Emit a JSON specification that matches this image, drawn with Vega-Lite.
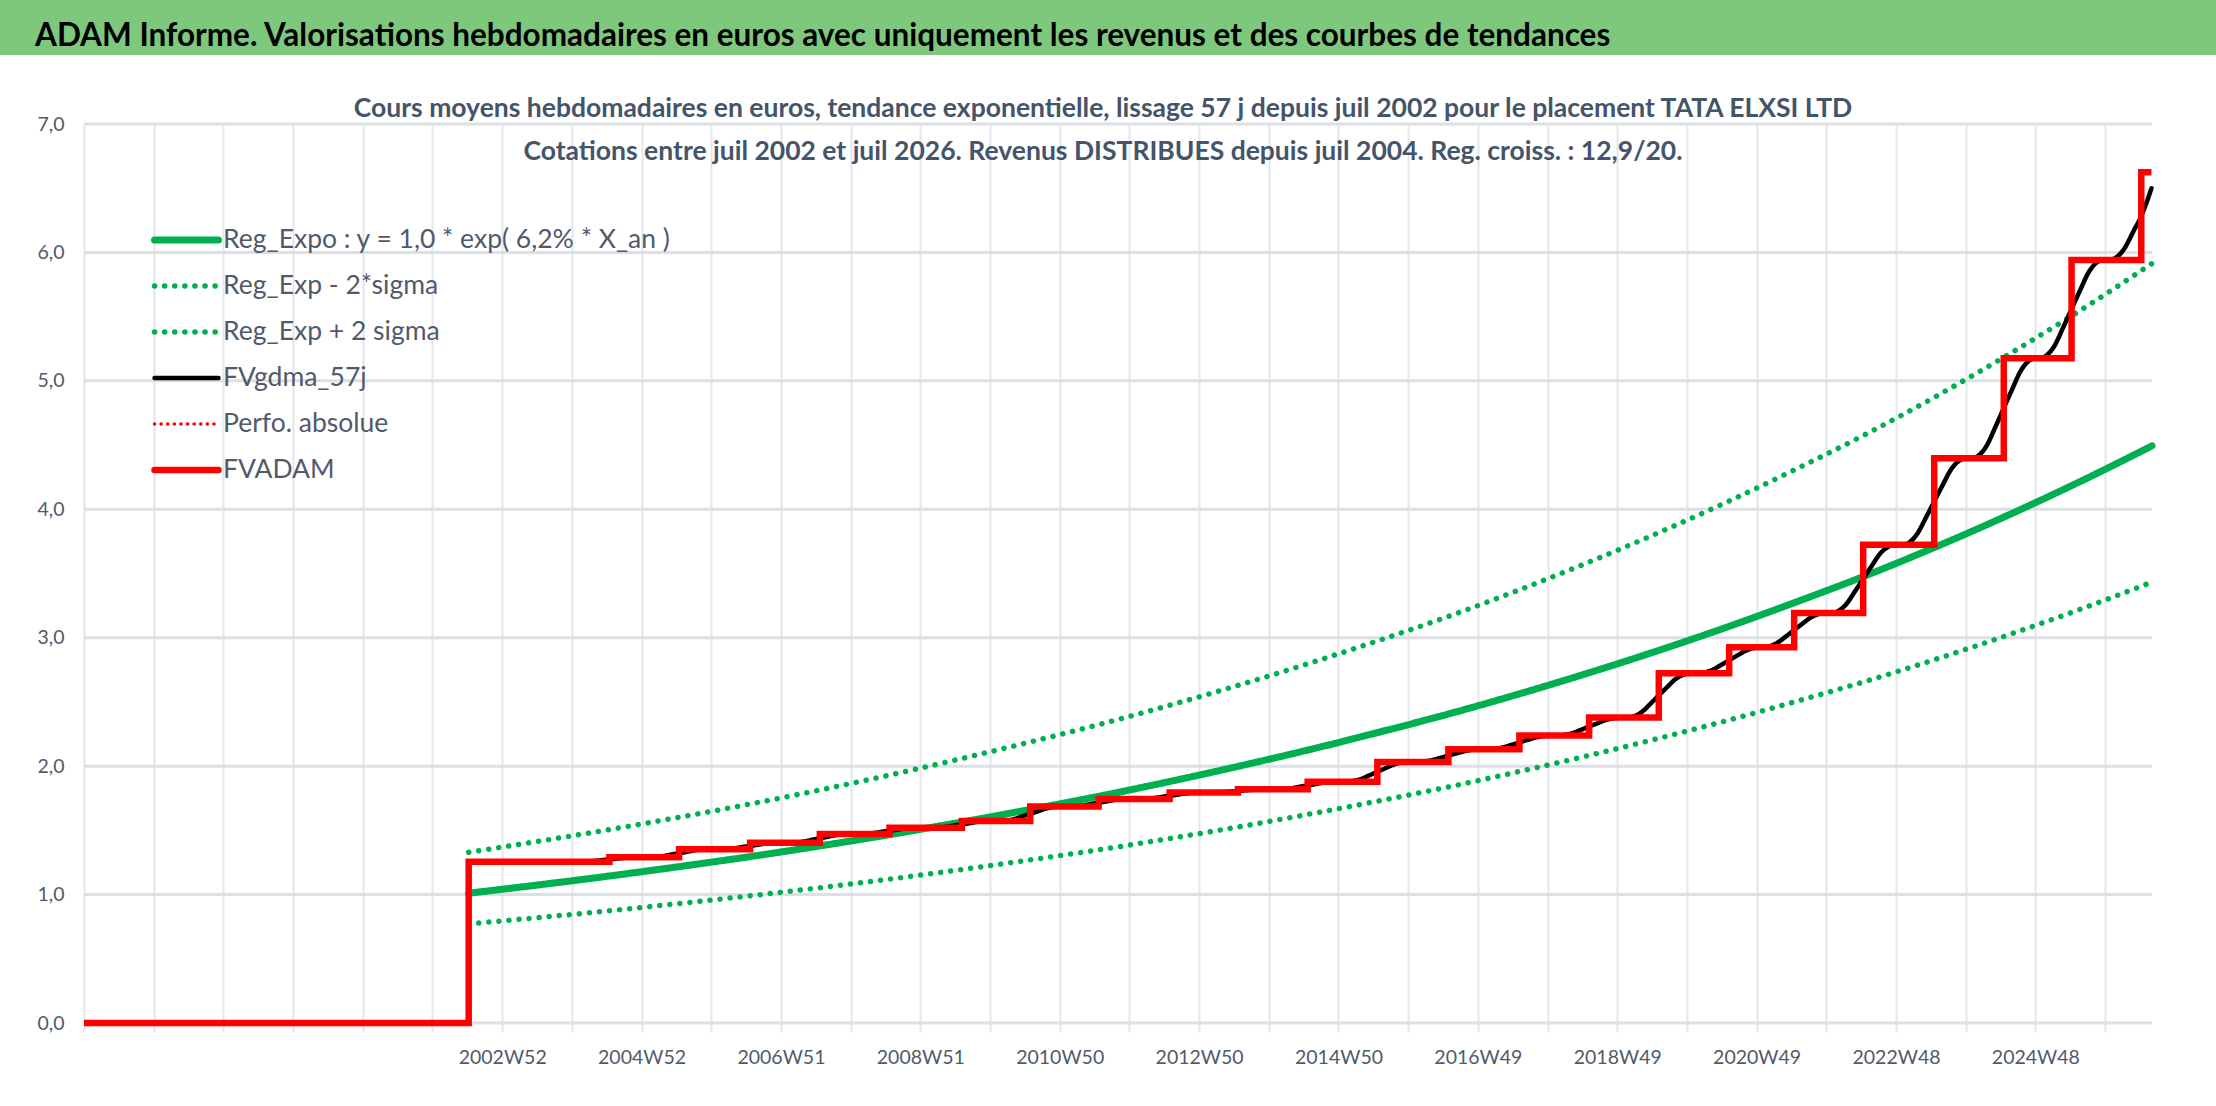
{
  "$schema": "https://vega.github.io/schema/vega-lite/v6.json",
  "background": "white",
  "padding": 0,
  "columns": 1,
  "align": "none",
  "spacing": 40,
  "config": {"view": {"stroke": null}},
  "datasets": {
    "grille": [
      {"y": 0, "debut": 0, "fin": 1543},
      {"y": 1, "debut": 0, "fin": 1543},
      {"y": 2, "debut": 0, "fin": 1543},
      {"y": 3, "debut": 0, "fin": 1543},
      {"y": 4, "debut": 0, "fin": 1543},
      {"y": 5, "debut": 0, "fin": 1543},
      {"y": 6, "debut": 0, "fin": 1543},
      {"y": 7, "debut": 0, "fin": 1543}
    ],
    "tendances": [
      {"x": 287, "y": 1.010, "serie": "Reg_Expo : y = 1,0 * exp( 6,2% *  X_an )"},
      {"x": 339, "y": 1.075, "serie": "Reg_Expo : y = 1,0 * exp( 6,2% *  X_an )"},
      {"x": 391, "y": 1.143, "serie": "Reg_Expo : y = 1,0 * exp( 6,2% *  X_an )"},
      {"x": 443, "y": 1.216, "serie": "Reg_Expo : y = 1,0 * exp( 6,2% *  X_an )"},
      {"x": 496, "y": 1.294, "serie": "Reg_Expo : y = 1,0 * exp( 6,2% *  X_an )"},
      {"x": 548, "y": 1.377, "serie": "Reg_Expo : y = 1,0 * exp( 6,2% *  X_an )"},
      {"x": 600, "y": 1.465, "serie": "Reg_Expo : y = 1,0 * exp( 6,2% *  X_an )"},
      {"x": 652, "y": 1.559, "serie": "Reg_Expo : y = 1,0 * exp( 6,2% *  X_an )"},
      {"x": 704, "y": 1.659, "serie": "Reg_Expo : y = 1,0 * exp( 6,2% *  X_an )"},
      {"x": 757, "y": 1.765, "serie": "Reg_Expo : y = 1,0 * exp( 6,2% *  X_an )"},
      {"x": 809, "y": 1.878, "serie": "Reg_Expo : y = 1,0 * exp( 6,2% *  X_an )"},
      {"x": 861, "y": 1.998, "serie": "Reg_Expo : y = 1,0 * exp( 6,2% *  X_an )"},
      {"x": 913, "y": 2.125, "serie": "Reg_Expo : y = 1,0 * exp( 6,2% *  X_an )"},
      {"x": 965, "y": 2.261, "serie": "Reg_Expo : y = 1,0 * exp( 6,2% *  X_an )"},
      {"x": 1018, "y": 2.406, "serie": "Reg_Expo : y = 1,0 * exp( 6,2% *  X_an )"},
      {"x": 1070, "y": 2.560, "serie": "Reg_Expo : y = 1,0 * exp( 6,2% *  X_an )"},
      {"x": 1122, "y": 2.724, "serie": "Reg_Expo : y = 1,0 * exp( 6,2% *  X_an )"},
      {"x": 1174, "y": 2.898, "serie": "Reg_Expo : y = 1,0 * exp( 6,2% *  X_an )"},
      {"x": 1226, "y": 3.083, "serie": "Reg_Expo : y = 1,0 * exp( 6,2% *  X_an )"},
      {"x": 1278, "y": 3.280, "serie": "Reg_Expo : y = 1,0 * exp( 6,2% *  X_an )"},
      {"x": 1331, "y": 3.490, "serie": "Reg_Expo : y = 1,0 * exp( 6,2% *  X_an )"},
      {"x": 1383, "y": 3.713, "serie": "Reg_Expo : y = 1,0 * exp( 6,2% *  X_an )"},
      {"x": 1435, "y": 3.951, "serie": "Reg_Expo : y = 1,0 * exp( 6,2% *  X_an )"},
      {"x": 1487, "y": 4.204, "serie": "Reg_Expo : y = 1,0 * exp( 6,2% *  X_an )"},
      {"x": 1543, "y": 4.494, "serie": "Reg_Expo : y = 1,0 * exp( 6,2% *  X_an )"},
      {"x": 287, "y": 0.772, "serie": "Reg_Exp - 2*sigma"},
      {"x": 339, "y": 0.821, "serie": "Reg_Exp - 2*sigma"},
      {"x": 391, "y": 0.873, "serie": "Reg_Exp - 2*sigma"},
      {"x": 443, "y": 0.929, "serie": "Reg_Exp - 2*sigma"},
      {"x": 496, "y": 0.989, "serie": "Reg_Exp - 2*sigma"},
      {"x": 548, "y": 1.052, "serie": "Reg_Exp - 2*sigma"},
      {"x": 600, "y": 1.119, "serie": "Reg_Exp - 2*sigma"},
      {"x": 652, "y": 1.191, "serie": "Reg_Exp - 2*sigma"},
      {"x": 704, "y": 1.267, "serie": "Reg_Exp - 2*sigma"},
      {"x": 757, "y": 1.348, "serie": "Reg_Exp - 2*sigma"},
      {"x": 809, "y": 1.435, "serie": "Reg_Exp - 2*sigma"},
      {"x": 861, "y": 1.526, "serie": "Reg_Exp - 2*sigma"},
      {"x": 913, "y": 1.624, "serie": "Reg_Exp - 2*sigma"},
      {"x": 965, "y": 1.727, "serie": "Reg_Exp - 2*sigma"},
      {"x": 1018, "y": 1.838, "serie": "Reg_Exp - 2*sigma"},
      {"x": 1070, "y": 1.956, "serie": "Reg_Exp - 2*sigma"},
      {"x": 1122, "y": 2.081, "serie": "Reg_Exp - 2*sigma"},
      {"x": 1174, "y": 2.214, "serie": "Reg_Exp - 2*sigma"},
      {"x": 1226, "y": 2.355, "serie": "Reg_Exp - 2*sigma"},
      {"x": 1278, "y": 2.506, "serie": "Reg_Exp - 2*sigma"},
      {"x": 1331, "y": 2.666, "serie": "Reg_Exp - 2*sigma"},
      {"x": 1383, "y": 2.837, "serie": "Reg_Exp - 2*sigma"},
      {"x": 1435, "y": 3.019, "serie": "Reg_Exp - 2*sigma"},
      {"x": 1487, "y": 3.212, "serie": "Reg_Exp - 2*sigma"},
      {"x": 1543, "y": 3.433, "serie": "Reg_Exp - 2*sigma"},
      {"x": 287, "y": 1.329, "serie": "Reg_Exp + 2 sigma"},
      {"x": 339, "y": 1.415, "serie": "Reg_Exp + 2 sigma"},
      {"x": 391, "y": 1.504, "serie": "Reg_Exp + 2 sigma"},
      {"x": 443, "y": 1.600, "serie": "Reg_Exp + 2 sigma"},
      {"x": 496, "y": 1.703, "serie": "Reg_Exp + 2 sigma"},
      {"x": 548, "y": 1.812, "serie": "Reg_Exp + 2 sigma"},
      {"x": 600, "y": 1.928, "serie": "Reg_Exp + 2 sigma"},
      {"x": 652, "y": 2.052, "serie": "Reg_Exp + 2 sigma"},
      {"x": 704, "y": 2.183, "serie": "Reg_Exp + 2 sigma"},
      {"x": 757, "y": 2.323, "serie": "Reg_Exp + 2 sigma"},
      {"x": 809, "y": 2.471, "serie": "Reg_Exp + 2 sigma"},
      {"x": 861, "y": 2.629, "serie": "Reg_Exp + 2 sigma"},
      {"x": 913, "y": 2.797, "serie": "Reg_Exp + 2 sigma"},
      {"x": 965, "y": 2.975, "serie": "Reg_Exp + 2 sigma"},
      {"x": 1018, "y": 3.166, "serie": "Reg_Exp + 2 sigma"},
      {"x": 1070, "y": 3.369, "serie": "Reg_Exp + 2 sigma"},
      {"x": 1122, "y": 3.585, "serie": "Reg_Exp + 2 sigma"},
      {"x": 1174, "y": 3.814, "serie": "Reg_Exp + 2 sigma"},
      {"x": 1226, "y": 4.057, "serie": "Reg_Exp + 2 sigma"},
      {"x": 1278, "y": 4.316, "serie": "Reg_Exp + 2 sigma"},
      {"x": 1331, "y": 4.593, "serie": "Reg_Exp + 2 sigma"},
      {"x": 1383, "y": 4.886, "serie": "Reg_Exp + 2 sigma"},
      {"x": 1435, "y": 5.200, "serie": "Reg_Exp + 2 sigma"},
      {"x": 1487, "y": 5.532, "serie": "Reg_Exp + 2 sigma"},
      {"x": 1543, "y": 5.914, "serie": "Reg_Exp + 2 sigma"},
      {"x": 287, "y": 1.256, "serie": "FVgdma_57j"},
      {"x": 372, "y": 1.256, "serie": "FVgdma_57j"},
      {"x": 392, "y": 1.274, "serie": "FVgdma_57j"},
      {"x": 412, "y": 1.291, "serie": "FVgdma_57j"},
      {"x": 424, "y": 1.291, "serie": "FVgdma_57j"},
      {"x": 444, "y": 1.322, "serie": "FVgdma_57j"},
      {"x": 464, "y": 1.353, "serie": "FVgdma_57j"},
      {"x": 477, "y": 1.353, "serie": "FVgdma_57j"},
      {"x": 497, "y": 1.379, "serie": "FVgdma_57j"},
      {"x": 517, "y": 1.404, "serie": "FVgdma_57j"},
      {"x": 529, "y": 1.404, "serie": "FVgdma_57j"},
      {"x": 549, "y": 1.438, "serie": "FVgdma_57j"},
      {"x": 569, "y": 1.472, "serie": "FVgdma_57j"},
      {"x": 581, "y": 1.472, "serie": "FVgdma_57j"},
      {"x": 601, "y": 1.497, "serie": "FVgdma_57j"},
      {"x": 621, "y": 1.521, "serie": "FVgdma_57j"},
      {"x": 635, "y": 1.521, "serie": "FVgdma_57j"},
      {"x": 655, "y": 1.547, "serie": "FVgdma_57j"},
      {"x": 675, "y": 1.573, "serie": "FVgdma_57j"},
      {"x": 686, "y": 1.573, "serie": "FVgdma_57j"},
      {"x": 706, "y": 1.629, "serie": "FVgdma_57j"},
      {"x": 726, "y": 1.685, "serie": "FVgdma_57j"},
      {"x": 737, "y": 1.685, "serie": "FVgdma_57j"},
      {"x": 757, "y": 1.715, "serie": "FVgdma_57j"},
      {"x": 777, "y": 1.744, "serie": "FVgdma_57j"},
      {"x": 790, "y": 1.744, "serie": "FVgdma_57j"},
      {"x": 810, "y": 1.769, "serie": "FVgdma_57j"},
      {"x": 830, "y": 1.794, "serie": "FVgdma_57j"},
      {"x": 841, "y": 1.794, "serie": "FVgdma_57j"},
      {"x": 861, "y": 1.807, "serie": "FVgdma_57j"},
      {"x": 881, "y": 1.820, "serie": "FVgdma_57j"},
      {"x": 893, "y": 1.820, "serie": "FVgdma_57j"},
      {"x": 913, "y": 1.850, "serie": "FVgdma_57j"},
      {"x": 933, "y": 1.879, "serie": "FVgdma_57j"},
      {"x": 941, "y": 1.879, "serie": "FVgdma_57j"},
      {"x": 952, "y": 1.897, "serie": "FVgdma_57j"},
      {"x": 959, "y": 1.928, "serie": "FVgdma_57j"},
      {"x": 965, "y": 1.956, "serie": "FVgdma_57j"},
      {"x": 971, "y": 1.984, "serie": "FVgdma_57j"},
      {"x": 978, "y": 2.015, "serie": "FVgdma_57j"},
      {"x": 989, "y": 2.033, "serie": "FVgdma_57j"},
      {"x": 994, "y": 2.033, "serie": "FVgdma_57j"},
      {"x": 1005, "y": 2.045, "serie": "FVgdma_57j"},
      {"x": 1012, "y": 2.064, "serie": "FVgdma_57j"},
      {"x": 1018, "y": 2.082, "serie": "FVgdma_57j"},
      {"x": 1024, "y": 2.100, "serie": "FVgdma_57j"},
      {"x": 1031, "y": 2.119, "serie": "FVgdma_57j"},
      {"x": 1042, "y": 2.131, "serie": "FVgdma_57j"},
      {"x": 1047, "y": 2.131, "serie": "FVgdma_57j"},
      {"x": 1058, "y": 2.144, "serie": "FVgdma_57j"},
      {"x": 1065, "y": 2.165, "serie": "FVgdma_57j"},
      {"x": 1071, "y": 2.185, "serie": "FVgdma_57j"},
      {"x": 1077, "y": 2.204, "serie": "FVgdma_57j"},
      {"x": 1084, "y": 2.225, "serie": "FVgdma_57j"},
      {"x": 1095, "y": 2.238, "serie": "FVgdma_57j"},
      {"x": 1099, "y": 2.238, "serie": "FVgdma_57j"},
      {"x": 1110, "y": 2.255, "serie": "FVgdma_57j"},
      {"x": 1117, "y": 2.283, "serie": "FVgdma_57j"},
      {"x": 1123, "y": 2.308, "serie": "FVgdma_57j"},
      {"x": 1129, "y": 2.333, "serie": "FVgdma_57j"},
      {"x": 1136, "y": 2.361, "serie": "FVgdma_57j"},
      {"x": 1147, "y": 2.378, "serie": "FVgdma_57j"},
      {"x": 1151, "y": 2.378, "serie": "FVgdma_57j"},
      {"x": 1162, "y": 2.419, "serie": "FVgdma_57j"},
      {"x": 1169, "y": 2.488, "serie": "FVgdma_57j"},
      {"x": 1175, "y": 2.551, "serie": "FVgdma_57j"},
      {"x": 1181, "y": 2.613, "serie": "FVgdma_57j"},
      {"x": 1188, "y": 2.682, "serie": "FVgdma_57j"},
      {"x": 1199, "y": 2.723, "serie": "FVgdma_57j"},
      {"x": 1203.5, "y": 2.723, "serie": "FVgdma_57j"},
      {"x": 1214.5, "y": 2.747, "serie": "FVgdma_57j"},
      {"x": 1221.5, "y": 2.788, "serie": "FVgdma_57j"},
      {"x": 1227.5, "y": 2.825, "serie": "FVgdma_57j"},
      {"x": 1233.5, "y": 2.861, "serie": "FVgdma_57j"},
      {"x": 1240.5, "y": 2.902, "serie": "FVgdma_57j"},
      {"x": 1251.5, "y": 2.926, "serie": "FVgdma_57j"},
      {"x": 1253, "y": 2.926, "serie": "FVgdma_57j"},
      {"x": 1263, "y": 2.958, "serie": "FVgdma_57j"},
      {"x": 1270, "y": 3.011, "serie": "FVgdma_57j"},
      {"x": 1276, "y": 3.060, "serie": "FVgdma_57j"},
      {"x": 1282, "y": 3.108, "serie": "FVgdma_57j"},
      {"x": 1289, "y": 3.161, "serie": "FVgdma_57j"},
      {"x": 1300, "y": 3.193, "serie": "FVgdma_57j"},
      {"x": 1304, "y": 3.193, "serie": "FVgdma_57j"},
      {"x": 1314.5, "y": 3.257, "serie": "FVgdma_57j"},
      {"x": 1321.5, "y": 3.363, "serie": "FVgdma_57j"},
      {"x": 1327.5, "y": 3.458, "serie": "FVgdma_57j"},
      {"x": 1333.5, "y": 3.553, "serie": "FVgdma_57j"},
      {"x": 1340.5, "y": 3.659, "serie": "FVgdma_57j"},
      {"x": 1351.5, "y": 3.723, "serie": "FVgdma_57j"},
      {"x": 1356.5, "y": 3.723, "serie": "FVgdma_57j"},
      {"x": 1367.5, "y": 3.804, "serie": "FVgdma_57j"},
      {"x": 1374.5, "y": 3.939, "serie": "FVgdma_57j"},
      {"x": 1380.5, "y": 4.061, "serie": "FVgdma_57j"},
      {"x": 1386.5, "y": 4.182, "serie": "FVgdma_57j"},
      {"x": 1393.5, "y": 4.317, "serie": "FVgdma_57j"},
      {"x": 1404.5, "y": 4.398, "serie": "FVgdma_57j"},
      {"x": 1408.4, "y": 4.398, "serie": "FVgdma_57j"},
      {"x": 1419.4, "y": 4.491, "serie": "FVgdma_57j"},
      {"x": 1426.4, "y": 4.647, "serie": "FVgdma_57j"},
      {"x": 1432.4, "y": 4.788, "serie": "FVgdma_57j"},
      {"x": 1438.4, "y": 4.928, "serie": "FVgdma_57j"},
      {"x": 1445.4, "y": 5.084, "serie": "FVgdma_57j"},
      {"x": 1456.4, "y": 5.177, "serie": "FVgdma_57j"},
      {"x": 1459, "y": 5.177, "serie": "FVgdma_57j"},
      {"x": 1470, "y": 5.269, "serie": "FVgdma_57j"},
      {"x": 1477, "y": 5.422, "serie": "FVgdma_57j"},
      {"x": 1483, "y": 5.560, "serie": "FVgdma_57j"},
      {"x": 1489, "y": 5.697, "serie": "FVgdma_57j"},
      {"x": 1496, "y": 5.850, "serie": "FVgdma_57j"},
      {"x": 1507, "y": 5.942, "serie": "FVgdma_57j"},
      {"x": 1511, "y": 5.942, "serie": "FVgdma_57j"},
      {"x": 1522, "y": 6.024, "serie": "FVgdma_57j"},
      {"x": 1529, "y": 6.161, "serie": "FVgdma_57j"},
      {"x": 1535, "y": 6.284, "serie": "FVgdma_57j"},
      {"x": 1539, "y": 6.390, "serie": "FVgdma_57j"},
      {"x": 1542.6, "y": 6.500, "serie": "FVgdma_57j"}
    ],
    "adam": [
      {"x": 0, "y": 0, "serie": "FVADAM"},
      {"x": 287, "y": 1.256, "serie": "FVADAM"},
      {"x": 392, "y": 1.291, "serie": "FVADAM"},
      {"x": 444, "y": 1.353, "serie": "FVADAM"},
      {"x": 497, "y": 1.404, "serie": "FVADAM"},
      {"x": 549, "y": 1.472, "serie": "FVADAM"},
      {"x": 601, "y": 1.521, "serie": "FVADAM"},
      {"x": 655, "y": 1.573, "serie": "FVADAM"},
      {"x": 706, "y": 1.685, "serie": "FVADAM"},
      {"x": 757, "y": 1.744, "serie": "FVADAM"},
      {"x": 810, "y": 1.794, "serie": "FVADAM"},
      {"x": 861, "y": 1.820, "serie": "FVADAM"},
      {"x": 913, "y": 1.879, "serie": "FVADAM"},
      {"x": 965, "y": 2.033, "serie": "FVADAM"},
      {"x": 1018, "y": 2.131, "serie": "FVADAM"},
      {"x": 1071, "y": 2.238, "serie": "FVADAM"},
      {"x": 1123, "y": 2.378, "serie": "FVADAM"},
      {"x": 1175, "y": 2.723, "serie": "FVADAM"},
      {"x": 1227.5, "y": 2.926, "serie": "FVADAM"},
      {"x": 1276, "y": 3.193, "serie": "FVADAM"},
      {"x": 1327.5, "y": 3.723, "serie": "FVADAM"},
      {"x": 1380.5, "y": 4.398, "serie": "FVADAM"},
      {"x": 1432.4, "y": 5.177, "serie": "FVADAM"},
      {"x": 1483, "y": 5.942, "serie": "FVADAM"},
      {"x": 1535, "y": 6.625, "serie": "FVADAM"},
      {"x": 1542.6, "y": 6.625, "serie": "FVADAM"}
    ]
  },
  "concat": [
    {
      "width": 2216,
      "height": 55,
      "view": {"fill": "#7ec87e", "stroke": null},
      "title": {
        "text": "ADAM Informe. Valorisations hebdomadaires en euros avec uniquement les revenus et des courbes de tendances",
        "orient": "top",
        "anchor": "start",
        "frame": "group",
        "offset": -52,
        "dx": 35,
        "font": "Lato",
        "fontSize": 31.5,
        "fontWeight": "bold",
        "color": "#000000"
      },
      "data": {"values": [{"bandeau": "titre"}]},
      "mark": {"type": "rect", "color": "#7ec87e"}
    },
    {
      "width": 2152,
      "height": 899,
      "view": {"stroke": null},
      "title": {
        "text": [
          "Cours moyens hebdomadaires en euros, tendance exponentielle, lissage 57 j depuis juil 2002 pour le placement TATA  ELXSI LTD",
          "Cotations entre juil 2002 et juil 2026. Revenus DISTRIBUES depuis juil 2004. Reg. croiss. : 12,9/20."
        ],
        "anchor": "middle",
        "offset": -51,
        "dx": 27,
        "lineHeight": 43,
        "font": "Lato",
        "fontSize": 26.5,
        "fontWeight": "bold",
        "color": "#44546a"
      },
      "encoding": {
        "x": {
          "field": "x",
          "type": "quantitative",
          "scale": {"domain": [-62.7, 1543], "nice": false, "zero": false},
          "axis": {
            "title": null,
            "values": [0, 52, 104, 156, 208, 260, 312, 364, 416, 468, 520, 572, 624, 676, 728, 780, 832, 884, 936, 988, 1040, 1092, 1144, 1196, 1248, 1300, 1352, 1404, 1456, 1508],
            "labelExpr": "datum.value >= 312 && (datum.value - 312) % 104 == 0 ? ['2002W52','2004W52','2006W51','2008W51','2010W50','2012W50','2014W50','2016W49','2018W49','2020W49','2022W48','2024W48'][(datum.value - 312) / 104] : ''",
            "grid": true,
            "gridColor": "#e3e6ec",
            "gridWidth": 2,
            "domain": false,
            "ticks": true,
            "tickColor": "#e3e6ec",
            "tickWidth": 2,
            "tickSize": 9,
            "labelFont": "Lato",
            "labelFontSize": 19.5,
            "labelColor": "#505a6b",
            "labelPadding": 16,
            "labelAngle": 0,
            "labelOverlap": false,
            "labelFlush": false,
            "labelBound": false
          }
        },
        "y": {
          "field": "y",
          "type": "quantitative",
          "scale": {"domain": [0, 7], "nice": false},
          "axis": {
            "title": null,
            "values": [0, 1, 2, 3, 4, 5, 6, 7],
            "labelExpr": "replace(format(datum.value, '.1f'), '.', ',')",
            "grid": false,
            "domain": false,
            "ticks": false,
            "tickSize": 0,
            "labelFont": "Lato",
            "labelFontSize": 19.5,
            "labelColor": "#505a6b",
            "labelPadding": -64
          }
        }
      },
      "layer": [
        {
          "data": {"name": "grille"},
          "mark": {"type": "rule", "color": "#dcdfe5", "strokeWidth": 3},
          "encoding": {
            "y": {"field": "y", "type": "quantitative"},
            "x": {"field": "debut", "type": "quantitative"},
            "x2": {"field": "fin"}
          }
        },
        {
          "encoding": {
            "color": {
              "field": "serie",
              "type": "nominal",
              "scale": {
                "domain": ["Reg_Expo : y = 1,0 * exp( 6,2% *  X_an )", "Reg_Exp - 2*sigma", "Reg_Exp + 2 sigma", "FVgdma_57j", "Perfo. absolue", "FVADAM"],
                "range": ["#00b050", "#00b050", "#00b050", "#000000", "#ff0000", "#ff0000"]
              },
              "legend": {
                "title": null,
                "orient": "none",
                "legendX": 151,
                "legendY": 225,
                "symbolType": "stroke",
                "symbolSize": 4096,
                "clipHeight": 30,
                "rowPadding": 16,
                "labelOffset": 1,
                "labelLimit": 0,
                "labelFont": "Lato",
                "labelFontSize": 26.5,
                "labelColor": "#505a6b",
                "encode": {"symbols": {"update": {"strokeCap": {"value": "round"}}}}
              }
            },
            "strokeDash": {
              "field": "serie",
              "type": "nominal",
              "scale": {
                "domain": ["Reg_Expo : y = 1,0 * exp( 6,2% *  X_an )", "Reg_Exp - 2*sigma", "Reg_Exp + 2 sigma", "FVgdma_57j", "Perfo. absolue", "FVADAM"],
                "range": [[1, 0], [0.1, 10], [0.1, 10], [1, 0], [0.1, 6.5], [1, 0]]
              },
              "legend": {
                "title": null,
                "orient": "none",
                "legendX": 151,
                "legendY": 225,
                "symbolType": "stroke",
                "symbolSize": 4096,
                "clipHeight": 30,
                "rowPadding": 16,
                "labelOffset": 1,
                "labelLimit": 0,
                "labelFont": "Lato",
                "labelFontSize": 26.5,
                "labelColor": "#505a6b",
                "encode": {"symbols": {"update": {"strokeCap": {"value": "round"}}}}
              }
            },
            "strokeWidth": {
              "field": "serie",
              "type": "nominal",
              "scale": {
                "type": "ordinal",
                "domain": ["Reg_Expo : y = 1,0 * exp( 6,2% *  X_an )", "Reg_Exp - 2*sigma", "Reg_Exp + 2 sigma", "FVgdma_57j", "Perfo. absolue", "FVADAM"],
                "range": [7, 5.5, 5.5, 4.5, 3.5, 6.5]
              },
              "legend": {
                "title": null,
                "orient": "none",
                "legendX": 151,
                "legendY": 225,
                "symbolType": "stroke",
                "symbolSize": 4096,
                "clipHeight": 30,
                "rowPadding": 16,
                "labelOffset": 1,
                "labelLimit": 0,
                "labelFont": "Lato",
                "labelFontSize": 26.5,
                "labelColor": "#505a6b",
                "encode": {"symbols": {"update": {"strokeCap": {"value": "round"}}}}
              }
            }
          },
          "layer": [
            {
              "data": {"name": "tendances"},
              "mark": {"type": "line", "interpolate": "monotone", "strokeCap": "round"}
            },
            {
              "data": {"name": "adam"},
              "mark": {"type": "line", "interpolate": "step-after", "strokeCap": "butt"}
            }
          ]
        }
      ]
    }
  ]
}
